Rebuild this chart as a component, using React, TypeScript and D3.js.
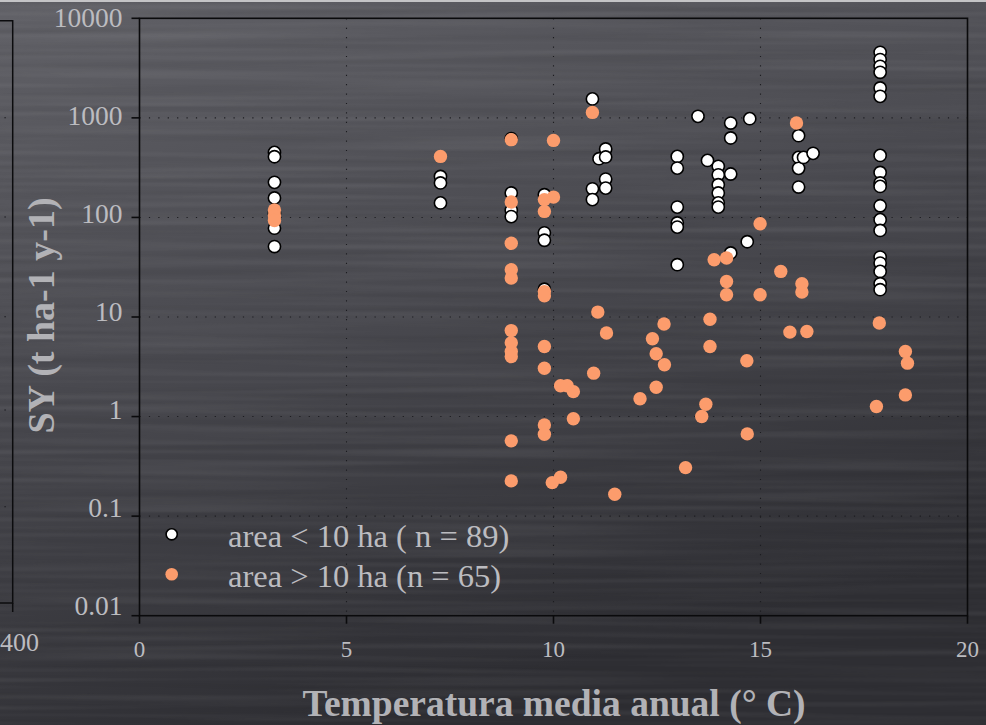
import React from "react";
import * as d3 from "d3";

// Sediment yield vs. mean annual temperature, two catchment-size groups
const smallArea: [number, number][] = [
  [3.26, 450], [3.26, 407], [3.26, 225], [3.26, 157], [3.26, 110], [3.26, 78], [3.26, 51],
  [7.27, 258], [7.27, 222], [7.27, 140],
  [8.98, 620], [8.98, 176], [8.98, 118], [8.98, 102],
  [9.78, 169], [9.78, 70], [9.78, 59], [9.78, 19],
  [10.94, 1550], [10.94, 194], [10.94, 151],
  [11.1, 389],
  [11.26, 487], [11.26, 405], [11.26, 243], [11.26, 197],
  [12.99, 410], [12.99, 313], [12.99, 127], [12.99, 88], [12.99, 80], [12.99, 33.5],
  [13.49, 1036],
  [13.72, 374],
  [13.98, 326], [13.98, 268], [13.98, 213], [13.98, 176], [13.98, 140], [13.98, 127],
  [14.28, 887], [14.28, 628], [14.28, 273], [14.28, 44],
  [14.68, 57],
  [14.74, 982],
  [15.92, 662], [15.92, 401], [15.92, 311], [15.92, 202],
  [16.04, 401], [16.27, 440],
  [17.89, 4550], [17.89, 3850], [17.89, 3295], [17.89, 2867], [17.89, 1997], [17.89, 1644],
  [17.89, 420], [17.89, 283], [17.89, 222], [17.89, 205], [17.89, 131], [17.89, 95],
  [17.89, 74], [17.89, 40], [17.89, 34.8], [17.89, 28.7], [17.89, 21.6], [17.89, 18.8],
];

const largeArea: [number, number][] = [
  [3.26, 119], [3.26, 104], [3.26, 93],
  [7.27, 410],
  [8.98, 604], [8.98, 143], [8.98, 55], [8.98, 29.8], [8.98, 24.6], [8.98, 7.3], [8.98, 5.5],
  [8.98, 4.5], [8.98, 4.0], [8.98, 0.57], [8.98, 0.226],
  [9.78, 151], [9.78, 115], [9.78, 18], [9.78, 16.3], [9.78, 5.05], [9.78, 3.06], [9.78, 0.825], [9.78, 0.665],
  [10.0, 594], [10.0, 160],
  [9.97, 0.217], [10.17, 0.246], [10.17, 2.04], [10.33, 2.04], [10.48, 1.78], [10.48, 0.95],
  [10.94, 1135],
  [10.97, 2.73], [11.07, 11.2], [11.28, 6.9], [11.48, 0.166],
  [12.09, 1.51], [12.39, 6.04], [12.48, 4.27], [12.48, 1.97], [12.67, 8.5], [12.68, 3.31],
  [13.19, 0.307], [13.58, 1.0], [13.68, 1.33], [13.78, 9.5], [13.78, 5.05], [13.88, 37.6],
  [14.18, 39.1], [14.18, 22.7], [14.18, 16.7], [14.67, 3.63], [14.68, 0.67], [14.99, 86.5], [14.99, 16.7],
  [15.49, 28.7], [15.71, 7.05], [15.87, 888], [16.0, 21.6], [16.0, 17.8], [16.12, 7.15],
  [17.8, 1.26], [17.87, 8.69], [18.5, 4.5], [18.5, 1.65], [18.55, 3.44],
];

const xTicks = [0, 5, 10, 15, 20];
const yTicks = [10000, 1000, 100, 10, 1, 0.1, 0.01];
const yTickLabels = ["10000", "1000", "100", "10", "1", "0.1", "0.01"];
const legendLabels = ["area < 10 ha ( n = 89)", "area > 10 ha (n = 65)"];
const xTitle = "Temperatura media anual (° C)";
const yTitle = "SY (t ha-1 y-1)";

const W = 986;
const H = 725;
const left = 139.5;
const right = 967.5;
const top = 18.3;
const bottom = 615.7;

const SERIF = "'Liberation Serif', 'Times New Roman', Times, serif";
const TEXT = "#bcbcc0";
const ORANGE = "#fc9c6c";

export default function App() {
  const x = d3.scaleLinear().domain([0, 20]).range([left, right]);
  const y = d3.scaleLog().domain([0.01, 10000]).range([bottom, top]);
  // tick labels sit on a slightly tighter spacing than the tick marks
  const yLabel = d3.scaleLog().domain([0.01, 10000]).range([615, 26.7]);

  const gridY = yTicks.filter((v) => v > 0.01 && v < 10000);
  const gridX = xTicks.filter((v) => v > 0 && v < 20);

  // faint marks of a neighbouring panel at the left edge
  const ghostDots = [117.7, 217, 316.7, 410, 506.7];

  return (
    <svg
      width={W}
      height={H}
      style={{ position: "absolute", left: 0, top: 0, display: "block" }}
    >
      <defs>
        <linearGradient id="bg" x1="0" y1="0" x2="0.35" y2="1">
          <stop offset="0" stopColor="#616167" />
          <stop offset="0.5" stopColor="#49494f" />
          <stop offset="1" stopColor="#2e2e33" />
        </linearGradient>
        <filter id="brush" x="0" y="0" width="100%" height="100%">
          <feTurbulence type="fractalNoise" baseFrequency="0.003 0.18" numOctaves={1} seed={3} />
          <feColorMatrix
            type="matrix"
            values="0 0 0 0 1  0 0 0 0 1  0 0 0 0 1  0.16 0 0 0 -0.07"
          />
        </filter>
        <filter id="brushDark" x="0" y="0" width="100%" height="100%">
          <feTurbulence type="fractalNoise" baseFrequency="0.0025 0.14" numOctaves={1} seed={11} />
          <feColorMatrix
            type="matrix"
            values="0 0 0 0 0  0 0 0 0 0  0 0 0 0 0  0.18 0 0 0 -0.08"
          />
        </filter>
      </defs>

      <rect x={0} y={0} width={W} height={H} fill="url(#bg)" />
      <rect x={0} y={0} width={W} height={H} filter="url(#brush)" />
      <rect x={0} y={0} width={W} height={H} filter="url(#brushDark)" />
      <rect x={0} y={0} width={W} height={2} fill="#c4c4c6" />

      {/* neighbouring panel edge */}
      <g stroke="#0c0c0e" strokeWidth={1.5} fill="none">
        <path d="M0,20.7 H12.7 V603 H0" />
        <line x1={12.7} x2={12.7} y1={603} y2={612} />
      </g>
      {ghostDots.map((gy, i) => (
        <rect key={i} x={4.5} y={gy - 0.6} width={1.2} height={1.2} fill="#1a1a1e" />
      ))}
      <text x={0} y={650.7} fontFamily={SERIF} fontSize={26} fill={TEXT}>
        400
      </text>

      {/* dotted grid */}
      <g stroke="#1c1c20" strokeWidth={1.1} strokeDasharray="1.2 8.2">
        {gridY.map((v) => (
          <line key={"gy" + v} x1={left} x2={right} y1={y(v)} y2={y(v)} />
        ))}
        {gridX.map((v) => (
          <line key={"gx" + v} x1={x(v)} x2={x(v)} y1={top} y2={bottom} />
        ))}
      </g>

      {/* frame and ticks */}
      <g stroke="#0a0a0c" strokeWidth={1.6} fill="none">
        <rect x={left} y={top} width={right - left} height={bottom - top} />
        {yTicks.map((v) => (
          <line key={"ty" + v} x1={left - 8} x2={left} y1={y(v)} y2={y(v)} />
        ))}
        {xTicks.map((v) => (
          <line key={"tx" + v} x1={x(v)} x2={x(v)} y1={bottom} y2={bottom + 8} />
        ))}
      </g>

      {/* tick labels */}
      <g fontFamily={SERIF} fontSize={27.5} fill={TEXT} textAnchor="end">
        {yTicks.map((v, i) => (
          <text key={"ly" + v} x={122.5} y={yLabel(v)}>
            {yTickLabels[i]}
          </text>
        ))}
      </g>
      <g fontFamily={SERIF} fontSize={23} fill={TEXT} textAnchor="middle">
        {xTicks.map((v) => (
          <text key={"lx" + v} x={x(v)} y={657}>
            {String(v)}
          </text>
        ))}
      </g>

      {/* axis titles */}
      <text
        x={554}
        y={716}
        fontFamily={SERIF}
        fontSize={37.5}
        fontWeight="bold"
        fill="#b2b2b6"
        textAnchor="middle"
      >
        {xTitle}
      </text>
      <text
        transform="translate(54,315.5) rotate(-90)"
        fontFamily={SERIF}
        fontSize={38}
        fontWeight="bold"
        fill="#b2b2b6"
        textAnchor="middle"
      >
        {yTitle}
      </text>

      {/* points */}
      <g>
        {smallArea.map(([t, s], i) => (
          <circle
            key={"s" + i}
            cx={x(t)}
            cy={y(s)}
            r={6.1}
            fill="#ffffff"
            stroke="#000000"
            strokeWidth={1.6}
          />
        ))}
      </g>
      <g>
        {largeArea.map(([t, s], i) => (
          <circle key={"l" + i} cx={x(t)} cy={y(s)} r={6.7} fill={ORANGE} />
        ))}
      </g>

      {/* legend */}
      <g fontFamily={SERIF} fontSize={32.5} fill={TEXT}>
        <circle cx={171.7} cy={534.3} r={5.6} fill="#ffffff" stroke="#000" strokeWidth={1.6} />
        <text x={228} y={547}>
          {legendLabels[0]}
        </text>
        <circle cx={171.7} cy={574.3} r={6.3} fill={ORANGE} />
        <text x={228} y={587}>
          {legendLabels[1]}
        </text>
      </g>
    </svg>
  );
}
